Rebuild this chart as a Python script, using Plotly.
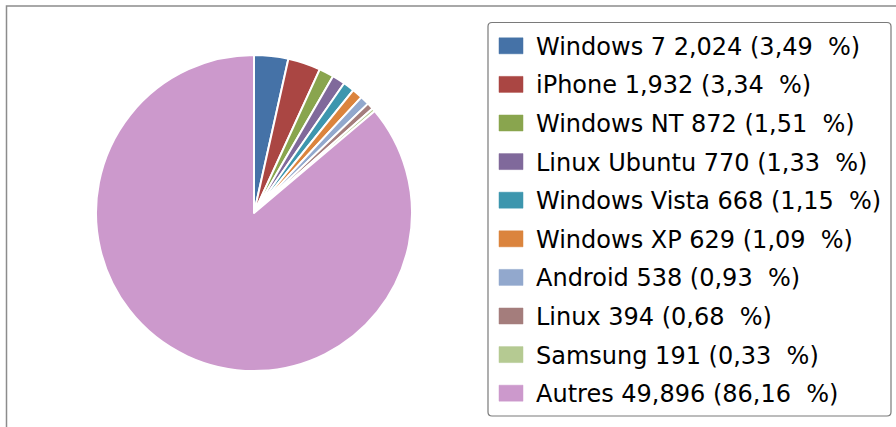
import plotly.graph_objects as go

labels = ["Windows 7", "iPhone", "Windows NT", "Linux Ubuntu", "Windows Vista",
          "Windows XP", "Android", "Linux", "Samsung", "Autres"]
values = [2024, 1932, 872, 770, 668, 629, 538, 394, 191, 49896]
value_text = ["2,024", "1,932", "872", "770", "668", "629", "538", "394", "191", "49,896"]
pct_text = ["3,49", "3,34", "1,51", "1,33", "1,15", "1,09", "0,93", "0,68", "0,33", "86,16"]
colors = ["#4572A7", "#AA4643", "#89A54E", "#80699B", "#3D96AE",
          "#DB843D", "#92A8CD", "#A47D7C", "#B5CA92", "#CC99CC"]

W, H = 896, 427
def px(x):
    return x / W
def py(y):
    return 1 - y / H

cx, cy, r = 254, 213, 158

fig = go.Figure(go.Pie(
    labels=labels, values=values, sort=False, direction="clockwise", rotation=0,
    marker=dict(colors=colors, line=dict(color="white", width=2)),
    textinfo="none", hoverinfo="label+value+percent", showlegend=False,
    domain=dict(x=[px(cx - r), px(cx + r)], y=[py(cy + r), py(cy - r)]),
))

shapes = []
# outer frame (cropped)
shapes.append(dict(type="rect", xref="paper", yref="paper",
                   x0=px(6.5), x1=px(1200), y0=py(900), y1=py(6),
                   line=dict(color="#8c8c8c", width=1.5), fillcolor="rgba(0,0,0,0)"))
# legend box with rounded corners
lx0, lx1, ly0, ly1, rr = 488, 891, 22.5, 416, 4
path = (f"M {px(lx0+rr)},{py(ly0)} L {px(lx1-rr)},{py(ly0)} "
        f"Q {px(lx1)},{py(ly0)} {px(lx1)},{py(ly0+rr)} "
        f"L {px(lx1)},{py(ly1-rr)} Q {px(lx1)},{py(ly1)} {px(lx1-rr)},{py(ly1)} "
        f"L {px(lx0+rr)},{py(ly1)} Q {px(lx0)},{py(ly1)} {px(lx0)},{py(ly1-rr)} "
        f"L {px(lx0)},{py(ly0+rr)} Q {px(lx0)},{py(ly0)} {px(lx0+rr)},{py(ly0)} Z")
shapes.append(dict(type="path", xref="paper", yref="paper", path=path,
                   line=dict(color="#7a7a7a", width=1.2), fillcolor="white"))

annotations = []
row0, step = 45.8, 38.6
for i, lab in enumerate(labels):
    yc = row0 + i * step
    shapes.append(dict(type="rect", xref="paper", yref="paper",
                       x0=px(499), x1=px(523), y0=py(yc + 8), y1=py(yc - 8),
                       line=dict(color=colors[i], width=0.5), fillcolor=colors[i]))
    annotations.append(dict(
        xref="paper", yref="paper", x=px(533.5), y=py(yc + 1), xanchor="left", yanchor="middle",
        text=f"{lab} {value_text[i]} ({pct_text[i]}\u00a0\u00a0%)", showarrow=False,
        font=dict(family="DejaVu Sans", size=24, color="#000000")))

fig.update_layout(
    width=W, height=H, margin=dict(l=0, r=0, t=0, b=0),
    paper_bgcolor="white", plot_bgcolor="white",
    shapes=shapes, annotations=annotations,
    font=dict(family="DejaVu Sans"),
)
fig.write_html("out.html", config={"displayModeBar": False},
               post_script="document.body.style.margin='0';document.body.style.overflow='hidden';")
